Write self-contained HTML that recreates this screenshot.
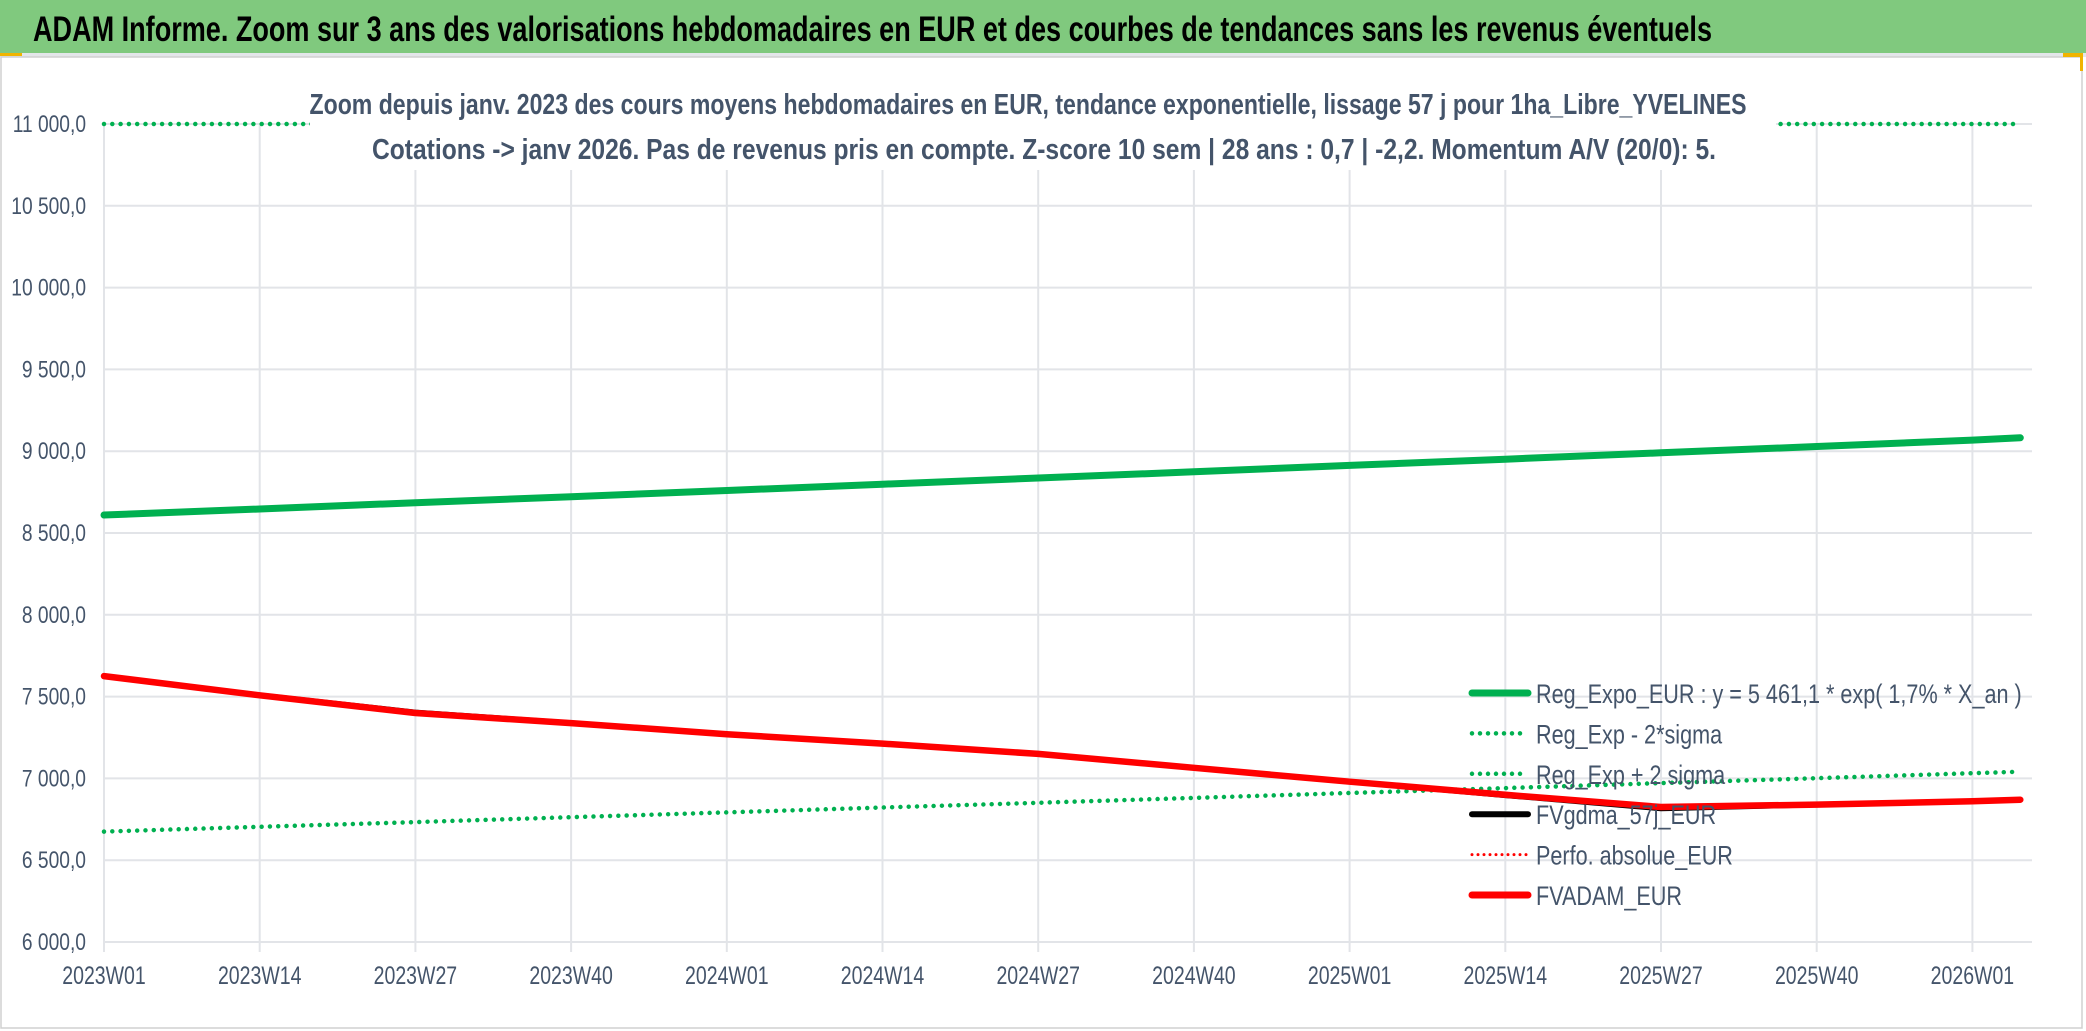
<!DOCTYPE html>
<html><head><meta charset="utf-8"><style>
html,body{margin:0;padding:0;background:#fff;}
svg{display:block;font-family:"Liberation Sans",sans-serif;}
</style></head><body>
<svg id="chart" width="2086" height="1031" viewBox="0 0 2086 1031">
<rect x="0" y="0" width="2086" height="1031" fill="#fff"/>
<rect x="0" y="0" width="2086" height="53" fill="#80c97e"/>
<rect x="0" y="53" width="2086" height="4" fill="#e4e6ea"/>
<rect x="0" y="53" width="22" height="3" fill="#f0b400"/>
<text x="33" y="41" font-size="35" font-weight="bold" fill="#000" textLength="1679" lengthAdjust="spacingAndGlyphs">ADAM Informe. Zoom sur 3 ans des valorisations hebdomadaires en EUR et des courbes de tendances sans les revenus éventuels</text>
<rect x="1" y="57" width="2081" height="971" fill="none" stroke="#d0d0d0" stroke-width="1.5"/>
<rect x="2063" y="53" width="18" height="4" fill="#f0b400"/>
<rect x="2080" y="53" width="3" height="18" fill="#f0b400"/>
<g id="grid"></g>
<g id="series"></g>
<rect x="310" y="84" width="1466" height="86" fill="#fff"/>
<text x="1028" y="114" font-size="29" font-weight="bold" fill="#44546a" text-anchor="middle" textLength="1437" lengthAdjust="spacingAndGlyphs">Zoom depuis janv. 2023 des cours moyens hebdomadaires en EUR, tendance exponentielle, lissage 57 j pour 1ha_Libre_YVELINES</text>
<text x="1044" y="159" font-size="29" font-weight="bold" fill="#44546a" text-anchor="middle" textLength="1344" lengthAdjust="spacingAndGlyphs">Cotations -&gt; janv 2026. Pas de revenus pris en compte. Z-score 10 sem | 28 ans : 0,7 | -2,2. Momentum A/V (20/0): 5.</text>
<g id="legend"></g>
</svg>
<script>
const weeks = [0, 13, 26, 39, 52, 65, 78, 91, 104, 117, 130, 143, 156, 160];
const tickLabels = ["2023W01","2023W14","2023W27","2023W40","2024W01","2024W14","2024W27","2024W40","2025W01","2025W14","2025W27","2025W40","2026W01"];
const yTicks = [6000,6500,7000,7500,8000,8500,9000,9500,10000,10500,11000];
const regExpo = [8610, 8647, 8685, 8722, 8760, 8798, 8836, 8874, 8913, 8951, 8990, 9029, 9068, 9082];
const regLow = [6675, 6704, 6733, 6763, 6792, 6822, 6851, 6881, 6911, 6941, 6971, 7001, 7032, 7041];
const regHigh = [11000, 11000, 11000, 11000, 11000, 11000, 11000, 11000, 11000, 11000, 11000, 11000, 11000, 11000];
const fvgdma = [7625, 7510, 7405, 7340, 7270, 7215, 7150, 7065, 6980, 6895, 6815, 6838, 6860, 6870];
const fvadam = [7625, 7508, 7400, 7338, 7270, 7213, 7150, 7065, 6980, 6900, 6825, 6840, 6860, 6870];

const X0 = 104, PW = 11.977, Y0 = 942, YMIN = 6000, YMAX = 11000, YH = 818;
function xs(w){ return X0 + w * PW; }
function ys(v){ return Y0 - (v - YMIN) / (YMAX - YMIN) * YH; }
const NS = "http://www.w3.org/2000/svg";
function mk(tag, attrs, parent){ const e = document.createElementNS(NS, tag); for (const k in attrs) e.setAttribute(k, attrs[k]); parent.appendChild(e); return e; }
function squeeze(t, f){ const w = t.getComputedTextLength(); if (w > 0) { t.setAttribute('textLength', (w * f).toFixed(1)); t.setAttribute('lengthAdjust', 'spacingAndGlyphs'); } }
const grid = document.getElementById('grid');
const series = document.getElementById('series');
const legend = document.getElementById('legend');

function fmt(v){ const s = String(v); return (s.length > 3 ? s.slice(0, s.length - 3) + ' ' + s.slice(-3) : s) + ',0'; }
yTicks.forEach(v => {
  const l = mk('line', {x1: X0, x2: 2032, y1: ys(v), y2: ys(v), stroke: '#e2e4e8', 'stroke-width': 2}, grid);
  
  
  const t = mk('text', {x: 86, y: ys(v) + 8, 'font-size': 24, fill: '#44546a', 'text-anchor': 'end'}, grid);
  t.textContent = fmt(v);
  
  
  squeeze(t, 0.8);
});
tickLabels.forEach((lab, i) => {
  const x = xs(weeks[i]);
  const l = mk('line', {x1: x, x2: x, y1: 124, y2: 952, stroke: '#e2e4e8', 'stroke-width': 2}, grid);
  
  
  const t = mk('text', {x: x, y: 984, 'font-size': 25, fill: '#44546a', 'text-anchor': 'middle'}, grid);
  t.textContent = lab;
  
  
  squeeze(t, 0.78);
});
function pathOf(vals){ return vals.map((v,i) => (i ? 'L' : 'M') + xs(weeks[i]).toFixed(1) + ' ' + ys(v).toFixed(1)).join(' '); }
function line(vals, color, w, dotted, name){
  const a = {d: pathOf(vals), fill: 'none', stroke: color, 'stroke-width': w, 'stroke-linejoin': 'round', 'stroke-linecap': 'round'};
  if (dotted) { a['stroke-dasharray'] = '0 8.3'; }
  const p = mk('path', a, series);
  
  
}
line(regHigh, '#00b050', 4.5, true, 'reg-exp-plus-2sigma-line');
line(regLow, '#00b050', 4.5, true, 'reg-exp-minus-2sigma-line');
line(regExpo, '#00b050', 7, false, 'reg-expo-line');
line(fvgdma, '#000000', 5, false, 'fvgdma-line');
line(fvadam, '#ff0000', 6.5, false, 'fvadam-line');

const legItems = [
  ['Reg_Expo_EUR : y = 5 461,1 * exp( 1,7% *  X_an )', '#00b050', 7, false],
  ['Reg_Exp - 2*sigma', '#00b050', 4.5, true],
  ['Reg_Exp + 2 sigma', '#00b050', 4.5, true],
  ['FVgdma_57j_EUR', '#000000', 6, false],
  ['Perfo. absolue_EUR', '#ff0000', 3, true],
  ['FVADAM_EUR', '#ff0000', 7, false]
];
legItems.forEach((it, i) => {
  const y = 693 + i * 40.4;
  const a = {x1: 1472, x2: 1528, y1: y, y2: y, stroke: it[1], 'stroke-width': it[2], 'stroke-linecap': 'round'};
  if (it[3]) a['stroke-dasharray'] = it[2] > 3 ? '0 8' : '0 6';
  const l = mk('line', a, legend);
  
  
  const t = mk('text', {x: 1536, y: y + 10, 'font-size': 27, fill: '#44546a'}, legend);
  t.textContent = it[0];
  
  
  squeeze(t, 0.8);
});
</script>
</body></html>
